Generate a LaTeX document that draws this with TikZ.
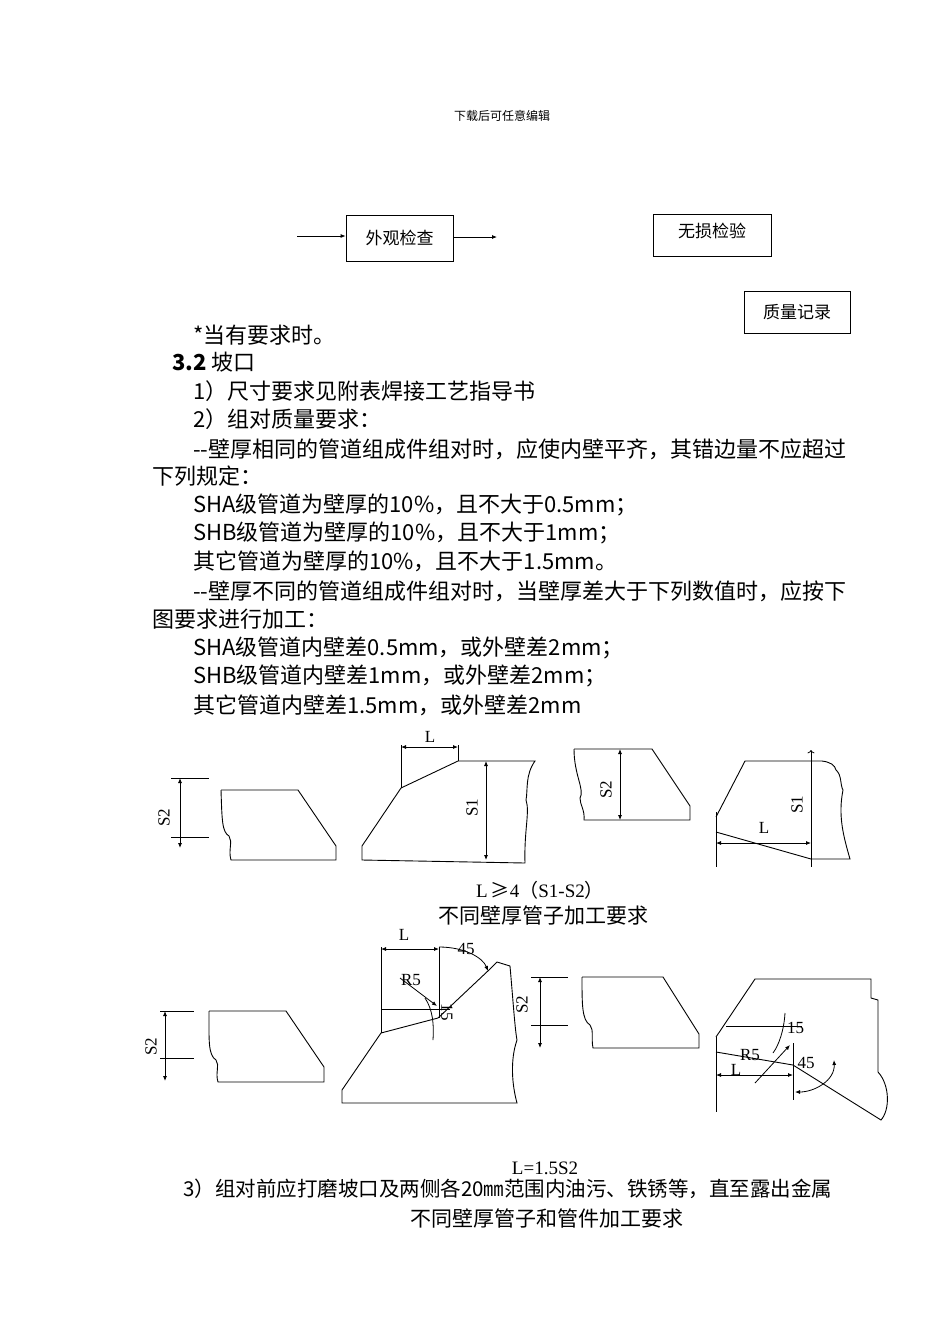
\documentclass[tikz,border=0pt]{standalone}
\usepackage{fontspec}
\setmainfont{Liberation Serif}
\newfontfamily\cjk{Noto Sans CJK SC}
\usetikzlibrary{arrows.meta}
\begin{document}
\begin{tikzpicture}[x=1pt,y=-1pt,
  tx/.style={anchor=west,inner sep=0pt,font=\cjk\fontsize{22}{22}\selectfont},
  lb/.style={inner sep=0pt,font=\fontsize{17}{17}\selectfont},
  bx/.style={draw,line width=0.8pt,inner sep=0pt,font=\cjk\fontsize{17}{17}\selectfont},
  sh/.style={line width=0.9pt},
  dim/.style={line width=0.8pt,{Latex[length=5pt,width=4pt]}-{Latex[length=5pt,width=4pt]}},
  ar/.style={line width=0.8pt,-{Latex[length=5pt,width=4pt]}}]
\useasboundingbox[fill=white] (0,0) rectangle (950,1342);
\node[inner sep=0pt,font=\cjk\fontsize{12}{12}\selectfont] (hdr) at (502,116) {下载后可任意编辑};
% flow boxes
\node[bx,minimum width=107pt,minimum height=46pt] (wg) at (399.5,238) {外观检查};
\node[bx,minimum width=118pt,minimum height=42pt,text depth=10pt] (ws) at (712,235) {无损检验};
\node[bx,minimum width=106pt,minimum height=42pt] (zl) at (797,312) {质量记录};
\coordinate (in) at (297,236);
\coordinate (out) at (497,237);
\draw[ar] (in) -- (in-|wg.west);
\draw[ar] (wg.east|-out) -- (out);
% text
\node[tx] (t1) at (193,335) {*当有要求时。};
\node[tx] (t2) at (172,362) {\textbf{3.2} 坡口};
\node[tx] (t3) at (193,391) {1）尺寸要求见附表焊接工艺指导书};
\node[tx] (t4) at (193,419) {2）组对质量要求：};
\node[tx] (t5) at (193,449) {--壁厚相同的管道组成件组对时，应使内壁平齐，其错边量不应超过};
\node[tx] (t6) at (152,476) {下列规定：};
\node[tx] (t7) at (193,505) {SHA级管道为壁厚的10\%，且不大于0.5mm；};
\node[tx] (t8) at (193,533) {SHB级管道为壁厚的10\%，且不大于1mm；};
\node[tx] (t9) at (193,561) {其它管道为壁厚的10\%，且不大于1.5mm。};
\node[tx] (t10) at (193,591) {--壁厚不同的管道组成件组对时，当壁厚差大于下列数值时，应按下};
\node[tx] (t11) at (152,619) {图要求进行加工：};
\node[tx] (t12) at (193,648) {SHA级管道内壁差0.5mm，或外壁差2mm；};
\node[tx] (t13) at (193,676) {SHB级管道内壁差1mm，或外壁差2mm；};
\node[tx] (t14) at (193,705) {其它管道内壁差1.5mm，或外壁差2mm};
\node[inner sep=0pt,font=\fontsize{19}{19}\selectfont] (f1) at (540,890) {L\,{\cjk ≥}4{\cjk （}S1-S2{\cjk ）}};
\node[inner sep=0pt,font=\cjk\fontsize{21}{21}\selectfont] (c1) at (543,915) {不同壁厚管子加工要求};
\node[inner sep=0pt,font=\fontsize{19}{19}\selectfont] (f2) at (545,1168) {L=1.5S2};
\node[tx,font=\cjk\fontsize{20.5}{20.5}\selectfont] (t15) at (183,1189) {3）组对前应打磨坡口及两侧各20㎜范围内油污、铁锈等，直至露出金属};
\node[inner sep=0pt,font=\cjk\fontsize{21}{21}\selectfont] (c2) at (547,1218) {不同壁厚管子和管件加工要求};
% ---- diagram 1
% A
\draw[sh] (221,790) -- (298,790) -- (336,846) -- (336,860) -- (231,860) .. controls (228,850) and (233,842) .. (229,836) .. controls (222,832) and (222,820) .. (221,790);
\draw[line width=0.8pt] (171,778) -- (209,778) (171,837) -- (209,837);
\coordinate (a1) at (180,778); \coordinate (a2) at (180,848);
\draw[dim] (a1) -- (a2);
\node[lb,rotate=90] (la) at (164,818) {S2};
% B
\draw[sh] (362,860) -- (362,846) -- (401,788) -- (458,761) -- (535,761) .. controls (525,775) and (528,790) .. (526,800) .. controls (530,812) and (524,830) .. (525,863) -- cycle;
\draw[line width=0.8pt] (401,788) -- (401,745) (458,761) -- (458,745);
\coordinate (b1) at (401,747); \coordinate (b2) at (458,747);
\draw[dim] (b1) -- (b2);
\node[lb] (lbL) at (430,737) {L};
\coordinate (b3) at (486,761); \coordinate (b4) at (486,860);
\draw[dim] (b3) -- (b4);
\node[lb,rotate=90] (lbS) at (472,808) {S1};
% C
\draw[sh] (574,749) -- (652,749) -- (690,806) -- (690,820) -- (584,820) .. controls (585,810) and (580,805) .. (580,798) .. controls (585,790) and (574,775) .. (574,749);
\coordinate (c3) at (620,749); \coordinate (c4) at (620,820);
\draw[dim] (c3) -- (c4);
\node[lb,rotate=90] (lcS) at (606,790) {S2};
% D
\draw[sh] (716,817) -- (745,761) -- (822,761) .. controls (830,762) and (835,765) .. (836,770) .. controls (842,775) and (840,785) .. (843,790) .. controls (838,815) and (843,835) .. (850,859) -- (811,859) -- (716,832);
\draw[line width=0.8pt] (716,812) -- (716,867);
\coordinate (d1) at (811,750); \coordinate (d2) at (811,867);
\draw[ar,<-] (d1) -- (d2);
\coordinate (d3) at (716,843); \coordinate (d4) at (811,843);
\draw[dim] (d3) -- (d4);
\node[lb] (ldL) at (764,828) {L};
\node[lb,rotate=90] (ldS) at (797,805) {S1};
% ---- diagram 2
% E
\draw[sh] (209,1011) -- (286,1011) -- (324,1067) -- (324,1082) -- (218,1082) .. controls (215,1072) and (220,1066) .. (216,1060) .. controls (208,1055) and (209,1040) .. (209,1011);
\draw[line width=0.8pt] (160,1011) -- (194,1011) (160,1058) -- (194,1058);
\coordinate (e1) at (165,1011); \coordinate (e2) at (165,1081);
\draw[dim] (e1) -- (e2);
\node[lb,rotate=90] (leS) at (151,1047) {S2};
% F
\draw[sh] (342,1090) -- (381,1033) -- (438,1018) -- (490,969) -- (497,962) -- (510,966) .. controls (513,1000) and (515,1030) .. (517,1040) .. controls (510,1060) and (512,1085) .. (517,1103) -- (342,1103) -- cycle;
\draw[line width=0.8pt] (381,1033) -- (381,947) (439,947) -- (439,1018) (381,1009) -- (450,1009);
\coordinate (f3) at (381,949); \coordinate (f4) at (439,949);
\draw[dim] (f3) -- (f4);
\node[lb] (lfL) at (404,935) {L};
\coordinate (f5) at (439,947); \coordinate (f6) at (488,971);
\draw[ar] (f5) .. controls (465,947) and (483,958) .. (f6);
\node[lb] (lf45) at (466,949) {45};
\coordinate (f7) at (400,978); \coordinate (f8) at (437,1006);
\draw[ar] (f7) -- (f8);
\node[lb] (lfR) at (411,980) {R5};
\draw[line width=0.8pt] (425,998) .. controls (433,1010) and (434,1025) .. (433,1040);
\node[lb,rotate=-90] (lf15) at (447,1012) {15};
% G
\draw[line width=0.8pt] (531,977) -- (568,977) (531,1025) -- (568,1025);
\coordinate (g1) at (540,977); \coordinate (g2) at (540,1048);
\draw[dim] (g1) -- (g2);
\node[lb,rotate=90] (lgS) at (522,1005) {S2};
\draw[sh] (582,977) -- (663,977) -- (699,1034) -- (699,1048) -- (593,1048) .. controls (591,1038) and (594,1030) .. (590,1025) .. controls (582,1020) and (582,1005) .. (582,977);
% H
\draw[sh] (716,1037) -- (755,979) -- (871,979) -- (871,998) -- (878,1000) -- (878,1072) .. controls (890,1085) and (890,1110) .. (881,1120) -- (793,1065) -- (716,1052);
\draw[line width=0.8pt] (716,1037) -- (716,1112) (726,1026) -- (802,1026) (793,1043) -- (793,1100);
\node[lb,anchor=west] (lh15) at (787,1028) {15};
\coordinate (h1) at (716,1075); \coordinate (h2) at (793,1075);
\draw[dim] (h1) -- (h2);
\node[lb] (lhL) at (736,1070) {L};
\node[lb] (lhR) at (750,1055) {R5};
\coordinate (h3) at (755,1083); \coordinate (h4) at (790,1045);
\draw[ar] (h3) -- (h4);
\draw[line width=0.8pt] (785,1013) .. controls (784,1030) and (779,1045) .. (773,1053);
\node[lb] (lh45) at (806,1063) {45};
\coordinate (h5) at (795,1092); \coordinate (h6) at (834,1060);
\draw[dim] (h5) .. controls (815,1092) and (835,1080) .. (h6);
\end{tikzpicture}
\end{document}
